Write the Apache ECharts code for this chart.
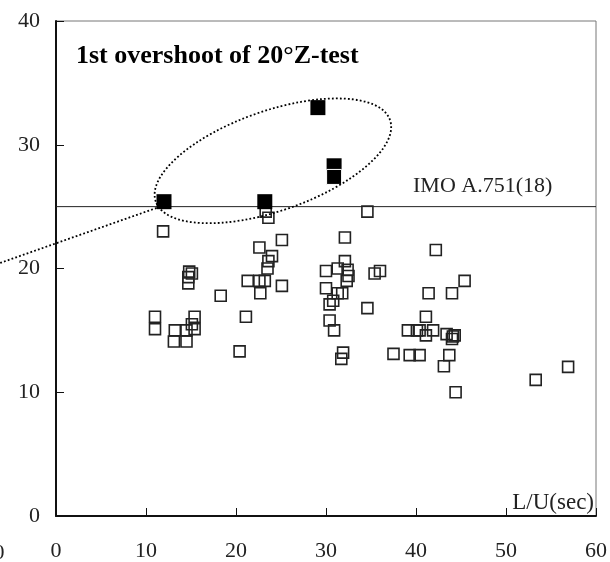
<!DOCTYPE html>
<html>
<head>
<meta charset="utf-8">
<script src="https://cdn.jsdelivr.net/npm/echarts@6/dist/echarts.min.js"></script>
<style>
  html, body { margin: 0; padding: 0; background: #fff; }
  #chart { width: 610px; height: 562px; }
</style>
</head>
<body>
<div id="chart"></div>
<script>
// L/U (sec) vs 1st overshoot angle (deg)
const hollowX = [11.9, 14.8, 15.1, 14.7, 14.7, 22.6, 25.1, 24.0, 23.6, 23.5, 21.3, 22.6, 23.2, 22.7, 25.1,
  18.3, 11.0, 11.0, 15.4, 15.1, 15.4, 13.2, 14.5, 13.1, 14.5, 21.1, 20.4, 23.3, 23.6,
  34.6, 32.1, 42.2, 32.1, 30.0, 31.3, 32.4, 32.5, 32.3, 35.4, 36.0, 45.4, 30.0, 31.8, 31.3, 30.8, 30.4,
  41.4, 44.0, 34.6, 30.4, 30.9, 41.1, 39.1, 40.1, 40.4, 41.9, 41.1, 43.4, 44.1, 44.3, 44.0,
  31.9, 31.7, 37.5, 39.3, 40.4, 43.7, 43.1, 44.4, 53.3, 56.9];
const hollowY = [23.0, 19.75, 19.6, 19.3, 18.8, 21.7, 22.3, 21.0, 20.6, 20.0, 19.0, 19.0, 19.0, 18.0, 18.6,
  17.8, 16.1, 15.1, 16.1, 15.5, 15.1, 15.0, 15.0, 14.1, 14.1, 16.1, 13.3, 24.6, 24.1,
  24.6, 22.5, 21.5, 20.6, 19.8, 20.0, 19.9, 19.4, 19.0, 19.6, 19.8, 19.0, 18.4, 18.0, 18.0, 17.4, 17.1,
  18.0, 18.0, 16.8, 15.8, 15.0, 16.1, 15.0, 15.0, 15.0, 15.0, 14.6, 14.7, 14.5, 14.6, 14.3,
  13.2, 12.7, 13.1, 13.0, 13.0, 13.0, 12.1, 10.0, 11.0, 12.05];

const filledX = [12.0, 23.2, 29.1, 30.9, 30.9];
const filledY = [25.4, 25.4, 33.0, 28.3, 27.4];

const imoLevel = 25;
const imoX = [0, 60];

const serif = 'Liberation Serif';

const chart = echarts.init(document.getElementById('chart'));

chart.setOption({
  animation: false,
  backgroundColor: '#fff',
  grid: {
    left: 56, right: 13, top: 21, bottom: 44,
    show: true,
    borderColor: '#777',
    borderWidth: 1
  },
  xAxis: {
    type: 'value',
    min: 0, max: 60, interval: 10,
    splitLine: { show: false },
    axisLine: { lineStyle: { color: '#111', width: 2 } },
    axisTick: { inside: true, length: 8, lineStyle: { color: '#111', width: 1 } },
    axisLabel: { margin: 24, fontSize: 22, fontFamily: serif, color: '#222' }
  },
  yAxis: {
    type: 'value',
    min: 0, max: 40, interval: 10,
    splitLine: { show: false },
    axisLine: { show: true, lineStyle: { color: '#111', width: 2 } },
    axisTick: { show: true, inside: true, length: 8, lineStyle: { color: '#111', width: 1 } },
    axisLabel: { margin: 16, fontSize: 22, fontFamily: serif, color: '#222' }
  },
  series: [
    {
      type: 'line',
      data: imoX.map(x => [x, imoLevel]),
      symbol: 'none',
      lineStyle: { color: '#222', width: 1 },
      silent: true,
      z: 1
    },
    {
      type: 'scatter',
      data: hollowX.map((x, i) => [x, hollowY[i]]),
      symbol: 'rect',
      symbolSize: 11,
      itemStyle: { color: 'transparent', borderColor: '#222', borderWidth: 1.6, opacity: 1 },
      z: 2
    },
    {
      type: 'scatter',
      data: filledX.map((x, i) => i === filledX.length - 1
        ? { value: [x, filledY[i]], itemStyle: { borderColor: '#fff', borderWidth: 1 } }
        : [x, filledY[i]]),
      symbol: 'rect',
      symbolSize: 15,
      itemStyle: { color: '#000', borderWidth: 0, opacity: 1 },
      z: 3
    }
  ]
});

// annotations placed from data coordinates
const c = chart.convertToPixel({ gridIndex: 0 }, [24.1, 28.7]);
const p0 = chart.convertToPixel({ gridIndex: 0 }, [-6.2, 20.45]);
const p1 = chart.convertToPixel({ gridIndex: 0 }, [11.2, 24.9]);
const dotted = { stroke: '#000', lineWidth: 1.8, lineDash: [1.8, 2.2], fill: null };

chart.setOption({
  graphic: [
    {
      type: 'ellipse',
      x: c[0], y: c[1],
      rotation: 0.335,
      shape: { cx: 0, cy: 0, rx: 124, ry: 50 },
      style: dotted,
      z: 10
    },
    {
      type: 'polyline',
      shape: { points: [p0, p1] },
      style: dotted,
      z: 10
    },
    {
      type: 'text',
      x: 76, y: 56,
      style: { text: '1st overshoot of 20°Z-test', font: 'bold 26px "Liberation Serif"', fill: '#000', verticalAlign: 'middle' },
      z: 20
    },
    {
      type: 'text',
      x: 413, y: 186,
      style: { text: 'IMO A.751(18)', font: '22px "Liberation Serif"', fill: '#222', verticalAlign: 'middle' },
      z: 20
    },
    {
      type: 'text',
      x: 594, y: 503,
      style: { text: 'L/U(sec)', font: '23px "Liberation Serif"', fill: '#222', align: 'right', verticalAlign: 'middle' },
      z: 20
    },
    {
      type: 'text',
      x: -1, y: 553,
      style: { text: '0', font: '22px "Liberation Serif"', fill: '#222', align: 'center', verticalAlign: 'middle' },
      z: 20
    }
  ]
});
</script>
</body>
</html>
